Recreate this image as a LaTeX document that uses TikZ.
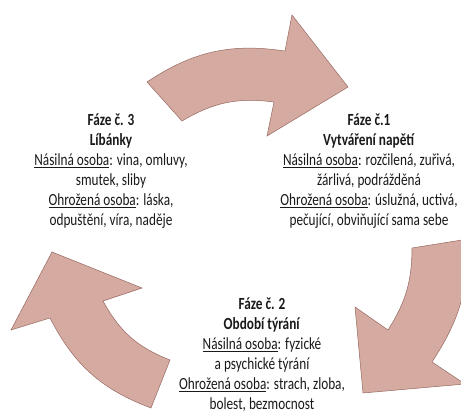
\documentclass[tikz,border=0pt]{standalone}
\usepackage{fontspec}
\setmainfont[FakeStretch=0.78]{Carlito}
\usetikzlibrary{positioning}
\definecolor{sipka}{RGB}{213,170,160}
\definecolor{obrys}{RGB}{150,105,98}
\definecolor{pismo}{RGB}{25,25,25}
\newcommand{\osoba}[1]{\underline{#1}}

\begin{document}
\begin{tikzpicture}[x=1pt,y=-1pt,
    sipka/.style={fill=sipka,draw=obrys,line width=0.5pt,line join=miter},
    faze/.style={align=center,inner sep=0pt,text=pismo,font=\fontsize{17}{20}\selectfont}]
  \useasboundingbox (0,0) rectangle (461,416);
  \clip (0,0) rectangle (461,416);
  % horni sipka
  \draw[sipka] (147,82) to[bend left=21] (285,51) -- (292,15) -- (348,87) -- (267,136)
    -- (274,102) to[bend right=19] (182,121) -- cycle;
  % prava sipka
  \draw[sipka] (412,248) -- (468,239) to[bend left=17] (432,362) -- (465,384) -- (363,393)
    -- (355,307) -- (388,330) to[bend right=16] (412,248) -- cycle;
  % leva sipka
  \draw[sipka] (151,408) to[bend left=21] (50,318) -- (11,330) -- (52,252) -- (142,288)
    -- (103,301) to[bend right=20] (170,360) -- cycle;
  % texty
  \node[faze] (faze1) at (369,171) {\textbf{Fáze č.1}\\ \textbf{Vytváření napětí}\\
    \osoba{Násilná osoba}: rozčilená, zuřivá,\\ žárlivá, podrážděná\\
    \osoba{Ohrožená osoba}: úslužná, uctivá,\\ pečující, obviňující sama sebe};
  \node[faze] (faze2) at (262,355) {\textbf{Fáze č. 2}\\ \textbf{Období týrání}\\
    \osoba{Násilná osoba}: fyzické\\ a psychické týrání\\
    \osoba{Ohrožená osoba}: strach, zloba,\\ bolest, bezmocnost};
  \node[faze] (faze3) at (111,171) {\textbf{Fáze č. 3}\\ \textbf{Líbánky}\\
    \osoba{Násilná osoba}: vina, omluvy,\\ smutek, sliby\\
    \osoba{Ohrožená osoba}: láska,\\ odpuštění, víra, naděje};
\end{tikzpicture}
\end{document}
